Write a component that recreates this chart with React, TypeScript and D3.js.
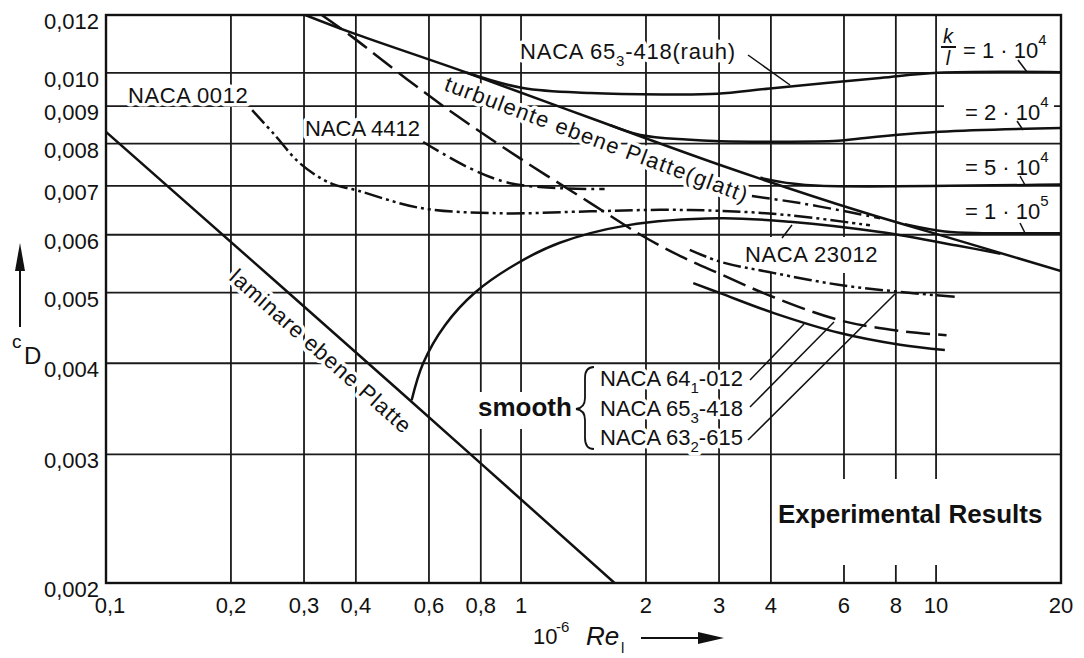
import React from "react";
import * as d3 from "d3";

const WIDTH = 1084;
const HEIGHT = 658;
const LEFT = 106;
const RIGHT = 1061;
const TOP = 15;
const BOTTOM = 583;
const FONT = "'Liberation Sans', Arial, Helvetica, sans-serif";
const INK = "#111";

// axes
const xTicks = [0.1, 0.2, 0.3, 0.4, 0.6, 0.8, 1, 2, 3, 4, 6, 8, 10, 20];
const xTickLabels = ["0,1", "0,2", "0,3", "0,4", "0,6", "0,8", "1", "2", "3", "4", "6", "8", "10", "20"];
const yTicks = [0.002, 0.003, 0.004, 0.005, 0.006, 0.007, 0.008, 0.009, 0.01, 0.012];
const yTickLabels = ["0,002", "0,003", "0,004", "0,005", "0,006", "0,007", "0,008", "0,009", "0,010", "0,012"];

// curves: [10^-6 Re, cD]
const laminarPlate = [[0.1, 0.0083], [0.5, 0.0037], [1.68, 0.002]];
const turbulentPlate = [[0.302, 0.012], [0.392, 0.01134], [0.741, 0.01], [1.47, 0.00867], [2.97, 0.0075], [6.56, 0.00646], [9.68, 0.00605], [20, 0.00535]];
const rough1e4 = [[0.741, 0.01], [1.01, 0.00953], [1.47, 0.00938], [2.2, 0.00934], [2.97, 0.00936], [3.98, 0.00952], [7.33, 0.00984], [10.1, 0.01], [20, 0.01002]];
const rough2e4 = [[1.64, 0.00848], [1.94, 0.00822], [2.5, 0.0081], [3.02, 0.00806], [5.81, 0.00807], [6.56, 0.00813], [10.2, 0.0083], [20, 0.0084]];
const rough5e4 = [[3.77, 0.00718], [4.5, 0.00705], [5.25, 0.007], [20, 0.00703]];
const rough1e5 = [[8.41, 0.0062], [10.5, 0.00606], [13, 0.00603], [20, 0.00603]];
const transition = [[0.545, 0.00356], [0.581, 0.004], [0.656, 0.00451], [0.775, 0.005], [0.978, 0.00548], [1.24, 0.00585], [1.8, 0.00618], [3.02, 0.00632], [4.45, 0.00625], [7.33, 0.00605], [11.4, 0.00579], [14.3, 0.00565]];
const naca0012 = [[0.225, 0.00889], [0.255, 0.00822], [0.293, 0.00752], [0.347, 0.00706], [0.403, 0.0069], [0.571, 0.00653], [0.89, 0.00642], [1.47, 0.00646], [2.16, 0.00649], [3.02, 0.00647], [4.45, 0.00638], [6.93, 0.00618]];
const naca4412a = [[0.581, 0.00804], [0.753, 0.0074], [0.941, 0.00706], [1.24, 0.00695], [1.59, 0.00693]];
const naca4412b = [[3.6, 0.00678], [4.7, 0.00663], [6.21, 0.00644], [7.33, 0.00632]];
const naca64012 = [[2.6, 0.00515], [3.02, 0.00499], [4.05, 0.00469], [5.87, 0.0044], [8.19, 0.00424], [10.5, 0.00417]];
const naca65418 = [[0.331, 0.012], [0.392, 0.0112], [0.531, 0.0098], [0.701, 0.00873], [1.01, 0.00759], [1.47, 0.00663], [1.94, 0.006], [2.42, 0.00561], [3.02, 0.0053], [4.05, 0.00493], [5.87, 0.00458], [8.19, 0.00443], [10.6, 0.00437]];
const naca63615 = [[2.55, 0.00572], [3.02, 0.00551], [4.05, 0.00532], [5.87, 0.00512], [8.19, 0.00501], [11.2, 0.00493]];

const DASH_DOT = "18 5 3 5";
const DASH_DOT_DOT = "18 4 3 4 3 4";
const LONG_DASH = "24 8";

const curves = [
  { key: "laminar", data: laminarPlate, dash: undefined },
  { key: "turb", data: turbulentPlate, dash: undefined },
  { key: "r1e4", data: rough1e4, dash: undefined },
  { key: "r2e4", data: rough2e4, dash: undefined },
  { key: "r5e4", data: rough5e4, dash: undefined },
  { key: "r1e5", data: rough1e5, dash: undefined },
  { key: "trans", data: transition, dash: undefined },
  { key: "n0012", data: naca0012, dash: DASH_DOT_DOT },
  { key: "n4412a", data: naca4412a, dash: DASH_DOT },
  { key: "n4412b", data: naca4412b, dash: DASH_DOT },
  { key: "n64012", data: naca64012, dash: undefined },
  { key: "n65418", data: naca65418, dash: LONG_DASH },
  { key: "n63615", data: naca63615, dash: DASH_DOT_DOT },
];

const plotLabels = (halo: boolean) => {
  const p = halo
    ? { fill: "#fff", stroke: "#fff", strokeWidth: 7, strokeLinejoin: "round" as const }
    : { fill: INK };
  return (
    <g fontSize={22} {...p}>
      <text x={128} y={103} letterSpacing={0.6}>NACA 0012</text>
      <text x={305} y={136}>NACA 4412</text>
      <text x={520} y={59} letterSpacing={0.8}>
        NACA 65<tspan dy={7} fontSize={15}>3</tspan>
        <tspan dy={-7}>-418(rauh)</tspan>
      </text>
      <text x={745} y={262} letterSpacing={0.6}>NACA 23012</text>
      <text transform="translate(443,90) rotate(20.5)" letterSpacing={1.3}>
        turbulente ebene Platte(glatt)
      </text>
      <text transform="translate(228,279) rotate(41.6)" letterSpacing={1}>
        laminare ebene Platte
      </text>
      <text x={600} y={386}>
        NACA 64<tspan dy={7} fontSize={15}>1</tspan>
        <tspan dy={-7}>-012</tspan>
      </text>
      <text x={600} y={416}>
        NACA 65<tspan dy={7} fontSize={15}>3</tspan>
        <tspan dy={-7}>-418</tspan>
      </text>
      <text x={600} y={445}>
        NACA 63<tspan dy={7} fontSize={15}>2</tspan>
        <tspan dy={-7}>-615</tspan>
      </text>
      <text x={948} y={43} fontSize={20} fontStyle="italic" textAnchor="middle">k</text>
      <text x={948} y={65} fontSize={20} fontStyle="italic" textAnchor="middle">l</text>
      <text x={963} y={58}>
        = 1 · 10<tspan dy={-13} fontSize={15}>4</tspan>
      </text>
      <text x={965} y={120}>
        = 2 · 10<tspan dy={-13} fontSize={15}>4</tspan>
      </text>
      <text x={965} y={175}>
        = 5 · 10<tspan dy={-13} fontSize={15}>4</tspan>
      </text>
      <text x={965} y={219}>
        = 1 · 10<tspan dy={-13} fontSize={15}>5</tspan>
      </text>
      <text x={478} y={416} fontSize={26} fontWeight="bold">smooth</text>
      <text x={778} y={523} fontSize={26} fontWeight="bold">Experimental Results</text>
    </g>
  );
};

export default function App() {
  const x = d3.scaleLog().domain([0.1, 20]).range([LEFT, RIGHT]);
  const y = d3.scaleLog().domain([0.002, 0.012]).range([BOTTOM, TOP]);
  const line = d3
    .line<number[]>()
    .x((d) => x(d[0]))
    .y((d) => y(d[1]))
    .curve(d3.curveCatmullRom.alpha(0.5));

  return (
    <>
      <style>{"body{margin:0;background:#fff}"}</style>
      <svg width={WIDTH} height={HEIGHT} style={{ display: "block" }} fontFamily={FONT}>
        <rect width={WIDTH} height={HEIGHT} fill="#fff" />
        <defs>
          <clipPath id="plot">
            <rect x={LEFT} y={TOP} width={RIGHT - LEFT} height={BOTTOM - TOP} />
          </clipPath>
        </defs>

        {/* grid */}
        <g stroke="#1a1a1a" strokeWidth={1.8}>
          {xTicks.slice(1, -1).map((t) => (
            <line key={"vx" + t} x1={x(t)} x2={x(t)} y1={TOP} y2={BOTTOM} />
          ))}
          {yTicks.slice(1, -1).map((t) => (
            <line key={"hy" + t} x1={LEFT} x2={RIGHT} y1={y(t)} y2={y(t)} />
          ))}
        </g>

        {/* gaps in the grid behind labels */}
        <g fill="#fff">
          <rect x={776} y={479} width={276} height={86} />
          <rect x={478} y={392} width={94} height={37} />
          <rect x={742} y={237} width={142} height={36} />
          <rect x={944} y={100} width={110} height={24} />
        </g>
        {plotLabels(true)}

        {/* curves */}
        <g clipPath="url(#plot)" fill="none" stroke={INK} strokeWidth={2.5}>
          {curves.map((c) => (
            <path key={c.key} d={line(c.data) ?? ""} strokeDasharray={c.dash} />
          ))}
        </g>

        {/* frame */}
        <rect x={LEFT} y={TOP} width={RIGHT - LEFT} height={BOTTOM - TOP} fill="none" stroke={INK} strokeWidth={2.4} />

        {/* leader lines */}
        <g stroke={INK} strokeWidth={1.5}>
          <line x1={748} y1={55} x2={790} y2={85} />
          <line x1={1018} y1={60} x2={1027} y2={72} />
          <line x1={1017} y1={121} x2={1023} y2={130} />
          <line x1={1020} y1={176} x2={1025} y2={185} />
          <line x1={1020} y1={223} x2={1025} y2={233} />
          <line x1={782} y1={238} x2={792} y2={225} />
          <line x1={750} y1={380} x2={804} y2={324} />
          <line x1={750} y1={407} x2={834} y2={322} />
          <line x1={748} y1={440} x2={895} y2={294} />
          <line x1={941} y1={47} x2={956} y2={47} strokeWidth={2} />
        </g>
        <path
          d="M594,367 Q585,367 585,378 L585,398 Q585,408 576,409 Q585,410 585,420 L585,438 Q585,449 594,449"
          fill="none"
          stroke={INK}
          strokeWidth={1.8}
        />
        {plotLabels(false)}

        {/* tick labels */}
        <g fontSize={22} fill={INK}>
          {xTicks.map((t, i) => (
            <text key={"xl" + t} x={x(t) + (i === 0 ? 4 : 0)} y={613} textAnchor="middle">
              {xTickLabels[i]}
            </text>
          ))}
          {yTicks.map((t, i) => (
            <text key={"yl" + t} x={99} y={y(t) + 14} textAnchor="end">
              {yTickLabels[i]}
            </text>
          ))}
        </g>

        {/* axis titles */}
        <g fill={INK}>
          <line x1={20} x2={20} y1={327} y2={262} stroke={INK} strokeWidth={2} />
          <path d="M20,243 L15,271 L25,271 Z" />
          <text x={12} y={348} fontSize={19}>c</text>
          <text x={24} y={364} fontSize={24}>D</text>

          <text x={533} y={644} fontSize={22}>10</text>
          <text x={556} y={632} fontSize={15}>-6</text>
          <text x={586} y={645} fontSize={26} fontStyle="italic">Re</text>
          <text x={621} y={653} fontSize={15}>l</text>
          <line x1={641} x2={702} y1={638} y2={638} stroke={INK} strokeWidth={2} />
          <path d="M724,638 L698,632 L698,644 Z" />
        </g>
      </svg>
    </>
  );
}
